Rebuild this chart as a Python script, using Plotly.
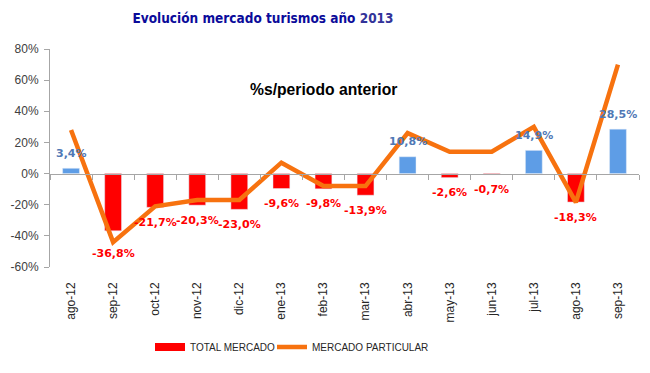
import plotly.graph_objects as go

categories = ["ago-12", "sep-12", "oct-12", "nov-12", "dic-12", "ene-13", "feb-13",
              "mar-13", "abr-13", "may-13", "jun-13", "jul-13", "ago-13", "sep-13"]
total_mercado = [3.4, -36.8, -21.7, -20.3, -23.0, -9.6, -9.8, -13.9, 10.8, -2.6, -0.7, 14.9, -18.3, 28.5]
mercado_particular = [28, -44, -21, -17, -17, 7, -8, -8, 26, 14, 14, 30, -18.5, 70]
y_ticks = [-60, -40, -20, 0, 20, 40, 60, 80]

RED = "#FF0000"
BLUE = "#5E9DE6"
ORANGE = "#F7720F"
LBLUE = "#4F78B5"

bar_colors = [BLUE if v >= 0 else RED for v in total_mercado]

fig = go.Figure()
fig.add_trace(go.Bar(
    x=categories, y=total_mercado, marker_color=bar_colors, width=0.4,
    showlegend=False, hoverinfo="skip",
))
fig.add_trace(go.Scatter(x=[None], y=[None], mode="lines", name="TOTAL MERCADO",
                         line=dict(color=RED, width=8), legend="legend"))
fig.add_trace(go.Scatter(
    x=categories, y=mercado_particular, mode="lines", name="MERCADO PARTICULAR",
    line=dict(color=ORANGE, width=4.5), cliponaxis=False, legend="legend2",
))
fig.add_trace(go.Scatter(x=categories, y=[0] * len(categories), xaxis="x2", mode="none",
                         showlegend=False, hoverinfo="skip"))

annotations = [dict(
    text="<b>%s/periodo anterior</b>", x=(323 - 50) / 589, y=(267 - 89) / 218,
    xref="paper", yref="paper", xanchor="center", yanchor="middle",
    showarrow=False, font=dict(family="Liberation Sans", size=15.7, color="black"),
)]
for c, v in zip(categories, total_mercado):
    pos = v >= 0
    shift = 15 if pos else (-23 if v < -30 else -15)
    annotations.append(dict(
        x=c, y=v, xref="x", yref="y", yshift=shift, yanchor="middle", showarrow=False,
        text="<b>" + ("%.1f%%" % v).replace(".", ",") + "</b>",
        font=dict(family="DejaVu Sans", size=11, color=LBLUE if pos else RED),
    ))

legend_style = dict(
    orientation="h", xanchor="left", y=-0.367, yanchor="middle",
    font=dict(family="Liberation Sans", size=10, color="#262626"),
    itemwidth=30, bgcolor="rgba(0,0,0,0)",
)

fig.update_layout(
    width=650, height=373,
    margin=dict(l=50, r=11, t=49, b=106, autoexpand=False),
    paper_bgcolor="white", plot_bgcolor="white",
    barmode="overlay",
    title=dict(
        text="<b><span style='color:#0B0B9A'>Evolución mercado turismos año </span><span style='color:#333399'>2013</span></b>",
        x=263 / 650, xanchor="center", xref="container", y=1 - 18 / 373, yref="container",
        yanchor="middle",
        font=dict(family="DejaVu Sans Condensed", size=13.5),
    ),
    xaxis=dict(
        type="category", range=[-0.5, 13.5], tickangle=-90, showgrid=False,
        tickfont=dict(family="Liberation Sans", size=12, color="#262626"),
        showline=False, ticks="", automargin=False, ticklabelstandoff=12,
    ),
    xaxis2=dict(
        type="category", range=[-0.5, 13.5], overlaying="x", anchor="free",
        position=60 / 140, showline=True, linecolor="#A6A6A6", linewidth=1,
        ticks="outside", tickson="boundaries", ticklen=5, tickcolor="#A6A6A6",
        showticklabels=False, showgrid=False, automargin=False,
    ),
    yaxis=dict(
        range=[-60, 80], tickvals=y_ticks, ticktext=["%d%%" % v for v in y_ticks],
        showgrid=False, zeroline=False, showline=True, linecolor="#A6A6A6",
        ticks="outside", ticklen=5, tickcolor="#A6A6A6", automargin=False,
        ticklabelstandoff=3,
        tickfont=dict(family="Liberation Sans", size=12, color="#404040"),
    ),
    legend=dict(x=(150 - 50) / 589, **legend_style),
    legend2=dict(x=(272 - 50) / 589, **legend_style),
    annotations=annotations,
)

fig.write_html("out.html", post_script="document.body.style.margin='0';",
               config={"displayModeBar": False})
